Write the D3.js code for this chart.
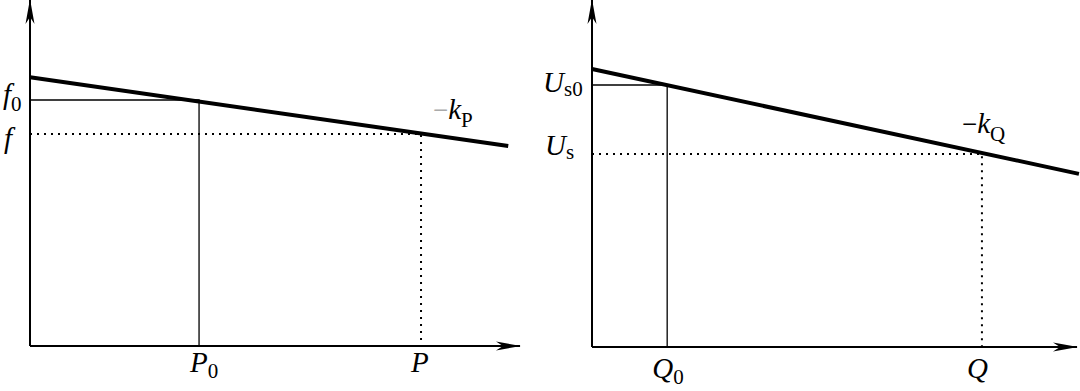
<!DOCTYPE html>
<html>
<head>
<meta charset="utf-8">
<script src="https://cdn.jsdelivr.net/npm/d3@7"></script>
<style>
  body { margin: 0; background: #fff; }
  svg { display: block; }
  text { font-family: "Liberation Serif", "Times New Roman", serif; fill: #000; }
</style>
</head>
<body>
<div id="chart-area"></div>
<script>
/* Data (axis units 0-100) */
const droopP  = [[0, 77.7], [97.6, 57.8]];   // f-P droop line
const opP     = { x0: 34.5, y0: 71.1, x: 79.8, y: 61.3 };   // P0,f0 and P,f
const droopQ  = [[0, 80.1], [100.4, 49.9]];  // Us-Q droop line
const opQ     = { x0: 15.5, y0: 75.5, x: 80.4, y: 55.6 };   // Q0,Us0 and Q,Us

const labelsP = { yTop: ['f', '0'], yLow: ['f', ''], xTop: ['P', '0'], xLow: ['P', ''], slope: ['k', 'P'] };
const labelsQ = { yTop: ['U', 's0'], yLow: ['U', 's'], xTop: ['Q', '0'], xLow: ['Q', ''], slope: ['k', 'Q'] };

const W = 1080, H = 391;

const svg = d3.select('#chart-area')
    .append('svg')
    .attr('width', W)
    .attr('height', H);

/* Arrow head */
svg.append('defs').append('marker')
    .attr('id', 'arrow')
    .attr('markerUnits', 'userSpaceOnUse')
    .attr('viewBox', '0 -5 26 10')
    .attr('refX', 24).attr('refY', 0)
    .attr('markerWidth', 26).attr('markerHeight', 10)
    .attr('orient', 'auto')
  .append('path')
    .attr('d', 'M0,-4.5 L25,0 L0,4.5 L7,0 Z')
    .attr('fill', '#000');

function label(g, x, y, parts, subSize, subDy, minus, minusColor){
    const t = g.append('text')
        .attr('x', x).attr('y', y)
        .attr('font-size', '29px');
    if (minus) {
        t.append('tspan').attr('fill', minusColor).attr('font-size', '27px').text('\u2212');
    }
    t.append('tspan').attr('font-style', 'italic').text(parts[0]);
    if (parts[1]) {
        t.append('tspan')
            .attr('font-size', subSize)
            .attr('dy', subDy)
            .text(parts[1]);
    }
}

function drawPanel(cfg){
    const x = d3.scaleLinear().domain([0, 100]).range(cfg.xRange);
    const y = d3.scaleLinear().domain([0, 100]).range(cfg.yRange);
    const g = svg.append('g');

    /* axes */
    g.append('line')
        .attr('x1', x(0)).attr('y1', y(0))
        .attr('x2', x(100)).attr('y2', y(0))
        .attr('stroke', '#000').attr('stroke-width', 2)
        .attr('marker-end', 'url(#arrow)');
    g.append('line')
        .attr('x1', x(0)).attr('y1', y(0))
        .attr('x2', x(0)).attr('y2', y(100))
        .attr('stroke', '#000').attr('stroke-width', 2)
        .attr('marker-end', 'url(#arrow)');

    const op = cfg.op;

    /* rated point: thin solid lines */
    g.append('path')
        .attr('d', d3.line()([[x(0), y(op.y0)], [x(op.x0), y(op.y0)], [x(op.x0), y(0)]]))
        .attr('fill', 'none').attr('stroke', '#000').attr('stroke-width', 1.3);

    /* actual point: dotted lines */
    g.append('path')
        .attr('d', d3.line()([[x(0), y(op.y)], [x(op.x), y(op.y)], [x(op.x), y(0)]]))
        .attr('fill', 'none').attr('stroke', '#000').attr('stroke-width', 2)
        .attr('stroke-dasharray', '2,5');

    /* droop line */
    g.append('path')
        .datum(cfg.droop)
        .attr('d', d3.line().x(d => x(d[0])).y(d => y(d[1])))
        .attr('fill', 'none').attr('stroke', '#000').attr('stroke-width', 4);

    /* labels */
    const L = cfg.labels;
    label(g, cfg.yLabX[0], y(op.y0) + cfg.yLabDy[0], L.yTop, '21px', cfg.subDy[0]);
    label(g, cfg.yLabX[1], y(op.y)  + cfg.yLabDy[1], L.yLow, '21px', cfg.subDy[1]);
    label(g, x(op.x0) + cfg.xLabDx[0], y(0) + cfg.xLabDy, L.xTop, '21px', 6);
    label(g, x(op.x)  + cfg.xLabDx[1], y(0) + cfg.xLabDy, L.xLow, '21px', 6);
    label(g, cfg.slopePos[0], cfg.slopePos[1], L.slope, '21px', 8, true, cfg.minusColor);
}

drawPanel({
    xRange: [30, 520], yRange: [346, 0],
    droop: droopP, op: opP, labels: labelsP,
    yLabX: [3, 4], yLabDy: [4, 14], subDy: [7, 0],
    xLabDx: [-9, -10], xLabDy: 26,
    slopePos: [433, 119], minusColor: '#aaa'
});

drawPanel({
    xRange: [592, 1077], yRange: [347, 0],
    droop: droopQ, op: opQ, labels: labelsQ,
    yLabX: [543, 545], yLabDy: [7, 1], subDy: [4, 4],
    xLabDx: [-15, -15], xLabDy: 31,
    slopePos: [962, 133], minusColor: '#000'
});
</script>
</body>
</html>
